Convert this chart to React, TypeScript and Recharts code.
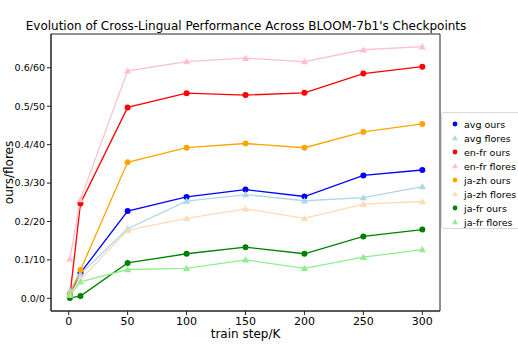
import React from 'react';
import { LineChart, Line, XAxis, YAxis, Label, ReferenceArea } from 'recharts';

// train steps (K) and scores
const steps = [1, 10, 50, 100, 150, 200, 250, 300];
const avgOurs = [0.01, 0.066, 0.227, 0.264, 0.283, 0.265, 0.32, 0.334];
const avgFlores = [0.021, 0.063, 0.181, 0.253, 0.27, 0.254, 0.262, 0.291];
const enFrOurs = [0.005, 0.247, 0.497, 0.534, 0.529, 0.535, 0.585, 0.603];
const enFrFlores = [0.102, 0.257, 0.592, 0.616, 0.625, 0.616, 0.647, 0.655];
const jaZhOurs = [0.01, 0.074, 0.354, 0.392, 0.403, 0.392, 0.433, 0.454];
const jaZhFlores = [0.01, 0.049, 0.177, 0.208, 0.233, 0.208, 0.245, 0.252];
const jaFrOurs = [0.001, 0.006, 0.092, 0.116, 0.133, 0.116, 0.161, 0.179];
const jaFrFlores = [0.008, 0.043, 0.075, 0.078, 0.1, 0.078, 0.107, 0.127];

const xTicks = [0, 50, 100, 150, 200, 250, 300];
const yTicks = [0, 0.1, 0.2, 0.3, 0.4, 0.5, 0.6];
const xDomain = [-15, 315];
const yDomain = [-0.033, 0.688];

interface Series {
  key: string;
  name: string;
  values: number[];
  color: string;
  marker: 'circle' | 'triangle';
}

const series: Series[] = [
  { key: 'avgOurs', name: 'avg ours', values: avgOurs, color: '#0000ff', marker: 'circle' },
  { key: 'avgFlores', name: 'avg flores', values: avgFlores, color: '#add8e6', marker: 'triangle' },
  { key: 'enFrOurs', name: 'en-fr ours', values: enFrOurs, color: '#ff0000', marker: 'circle' },
  { key: 'enFrFlores', name: 'en-fr flores', values: enFrFlores, color: '#ffc0cb', marker: 'triangle' },
  { key: 'jaZhOurs', name: 'ja-zh ours', values: jaZhOurs, color: '#ffa500', marker: 'circle' },
  { key: 'jaZhFlores', name: 'ja-zh flores', values: jaZhFlores, color: '#ffdab9', marker: 'triangle' },
  { key: 'jaFrOurs', name: 'ja-fr ours', values: jaFrOurs, color: '#008000', marker: 'circle' },
  { key: 'jaFrFlores', name: 'ja-fr flores', values: jaFrFlores, color: '#90ee90', marker: 'triangle' },
];

const data = steps.map((step, i) => {
  const row: Record<string, number> = { step };
  series.forEach((s) => { row[s.key] = s.values[i]; });
  return row;
});

const FONT = '"DejaVu Sans", sans-serif';

// little marker used both in the plot and in the legend
const Marker = ({ cx, cy, color, kind, size = 3 }: { cx: number; cy: number; color: string; kind: string; size?: number }) => {
  if (kind === 'triangle') {
    const s = size + 0.6;
    return <polygon points={`${cx},${cy - s} ${cx - s},${cy + s * 0.75} ${cx + s},${cy + s * 0.75}`} fill={color} />;
  }
  return <circle cx={cx} cy={cy} r={size} fill={color} />;
};

const makeDot = (s: Series) => (props: any) => {
  const { cx, cy, index } = props;
  if (cx == null || cy == null) return <g key={`${s.key}-${index}`} />;
  return <Marker key={`${s.key}-${index}`} cx={cx} cy={cy} color={s.color} kind={s.marker} />;
};

export default function App() {
  return (
    <div style={{ position: 'absolute', left: 0, top: 0, width: 518, height: 346, background: '#fff', fontFamily: FONT }}>
      <div style={{ position: 'absolute', left: 0, width: 492, top: 19, textAlign: 'center', fontSize: 12, color: '#000', whiteSpace: 'nowrap', lineHeight: '15px' }}>
        Evolution of Cross-Lingual Performance Across BLOOM-7b1's Checkpoints
      </div>
      <LineChart width={518} height={346} data={data} margin={{ top: 34, right: 78, bottom: 0, left: 0 }}>
        <XAxis
          dataKey="step"
          type="number"
          domain={xDomain}
          ticks={xTicks}
          height={35}
          tickSize={4}
          stroke="#222"
          tick={{ fill: '#000', fontSize: 11, fontFamily: FONT }}
          allowDataOverflow
        >
          <Label
            content={({ viewBox }: any) => (
              <text x={viewBox.x + viewBox.width / 2} y={338} textAnchor="middle" fontSize={12} fontFamily={FONT} fill="#000">
                train step/K
              </text>
            )}
          />
        </XAxis>
        <YAxis
          type="number"
          domain={yDomain}
          ticks={yTicks}
          width={51}
          tickSize={4}
          stroke="#222"
          tickFormatter={(v: number) => `${v.toFixed(1)}/${Math.round(v * 100)}`}
          tick={{ fill: '#000', fontSize: 9.5, fontFamily: FONT }}
          allowDataOverflow
        >
          <Label
            content={({ viewBox }: any) => {
              const cy = viewBox.y + viewBox.height / 2;
              return (
                <text x={13} y={cy} transform={`rotate(-90, 13, ${cy})`} textAnchor="middle" fontSize={12} fontFamily={FONT} fill="#000">
                  ours/flores
                </text>
              );
            }}
          />
        </YAxis>
        {/* frame around the plot area (matplotlib spines) */}
        <ReferenceArea x1={xDomain[0]} x2={xDomain[1]} y1={yDomain[0]} y2={yDomain[1]} fill="none" stroke="#222" strokeWidth={1} ifOverflow="visible" />
        {series.map((s) => (
          <Line
            key={s.key}
            dataKey={s.key}
            name={s.name}
            type="linear"
            stroke={s.color}
            strokeWidth={1.3}
            dot={makeDot(s)}
            activeDot={false}
            isAnimationActive={false}
          />
        ))}
      </LineChart>
      <div
        style={{
          position: 'absolute', left: 441, top: 112, width: 80, height: 117,
          border: '1px solid #d9d9d9', borderRadius: 3, background: 'rgba(255,255,255,0.8)', boxSizing: 'border-box',
        }}
      >
        {series.map((s, i) => (
          <div key={s.key} style={{ position: 'absolute', left: 0, top: 4 + i * 14.05, height: 14, display: 'flex', alignItems: 'center' }}>
            <svg width={22} height={14} style={{ display: 'block' }}>
              <Marker cx={13} cy={7} color={s.color} kind={s.marker} size={2.4} />
            </svg>
            <span style={{ fontSize: 9.5, color: '#000', marginLeft: 0, whiteSpace: 'nowrap' }}>{s.name}</span>
          </div>
        ))}
      </div>
    </div>
  );
}
